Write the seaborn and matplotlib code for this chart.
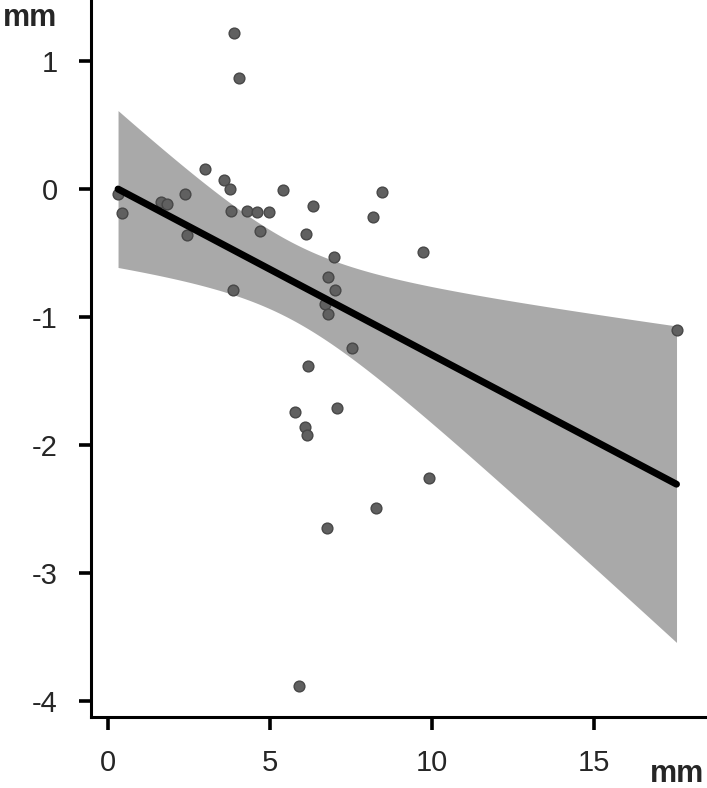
import pandas as pd
import matplotlib
matplotlib.use("Agg")
import matplotlib.pyplot as plt
import seaborn as sns
import numpy as np

# values (mm)
x_vals = [3.89, 4.03, 2.99, 3.58, 3.77, 0.31, 0.42, 1.63, 1.81, 2.39,
          2.45, 3.79, 4.28, 4.59, 4.97, 4.70, 5.41, 6.32, 6.10, 8.46,
          8.19, 9.73, 6.98, 3.87, 6.78, 7.02, 6.70, 6.80, 7.53, 6.17,
          5.77, 7.07, 6.09, 6.13, 9.91, 8.27, 6.76, 5.90, 17.55]
y_vals = [1.22, 0.87, 0.16, 0.07, 0.00, -0.04, -0.19, -0.10, -0.12, -0.04,
          -0.36, -0.17, -0.17, -0.18, -0.18, -0.33, -0.01, -0.13, -0.35, -0.02,
          -0.22, -0.49, -0.53, -0.79, -0.69, -0.79, -0.90, -0.98, -1.24, -1.38,
          -1.74, -1.71, -1.86, -1.92, -2.26, -2.49, -2.65, -3.88, -1.10]

x_ticks = [0, 5, 10, 15]
y_ticks = [1, 0, -1, -2, -3, -4]

data = pd.DataFrame({"x": x_vals, "y": y_vals})

sns.set_style("ticks")
plt.rcParams['font.family'] = ['Liberation Sans', 'DejaVu Sans']
plt.rcParams['axes.unicode_minus'] = False

fig = plt.figure(figsize=(7.07, 7.88), dpi=100)
ax = fig.add_axes([0.1287, 0.0901, 0.8685, 0.9099])

# 95% confidence band of the linear fit (standard OLS formula, smooth like the reference)
x = np.asarray(x_vals)
y = np.asarray(y_vals)
n = len(x)
b1, b0 = np.polyfit(x, y, 1)
resid = y - (b0 + b1 * x)
s = np.sqrt(np.sum(resid ** 2) / (n - 2))
grid = np.linspace(x.min(), x.max(), 200)
se = s * np.sqrt(1 / n + (grid - x.mean()) ** 2 / np.sum((x - x.mean()) ** 2))
t_crit = 2.026  # t(0.975, df=37)
fit = b0 + b1 * grid
ax.fill_between(grid, fit - t_crit * se, fit + t_crit * se, color="#a9a9a9",
                linewidth=0, zorder=1)

sns.regplot(x="x", y="y", data=data, ax=ax, ci=None,
            scatter_kws={"s": 60, "color": "#606060", "edgecolor": "#474747",
                         "linewidths": 1.0, "alpha": 1, "zorder": 3},
            line_kws={"color": "black", "linewidth": 5, "zorder": 4})

ax.set_xlim(-0.525, 18.43)
ax.set_ylim(-4.125, 1.477)
ax.set_xticks(x_ticks)
ax.set_yticks(y_ticks)
ax.set_xlabel("")
ax.set_ylabel("")

for side in ["top", "right"]:
    ax.spines[side].set_visible(False)
for side in ["left", "bottom"]:
    ax.spines[side].set_linewidth(2.2)
    ax.spines[side].set_color("black")

ax.tick_params(axis="both", length=9, width=2.6, color="black", labelsize=21)
ax.tick_params(axis="y", pad=15)
ax.tick_params(axis="x", pad=14)

fig.text(0.042, 0.977, "mm", ha="center", va="center", fontsize=22, fontweight="bold")
fig.text(0.957, 0.018, "mm", ha="center", va="center", fontsize=22, fontweight="bold")

plt.savefig("out.png", dpi=100)
